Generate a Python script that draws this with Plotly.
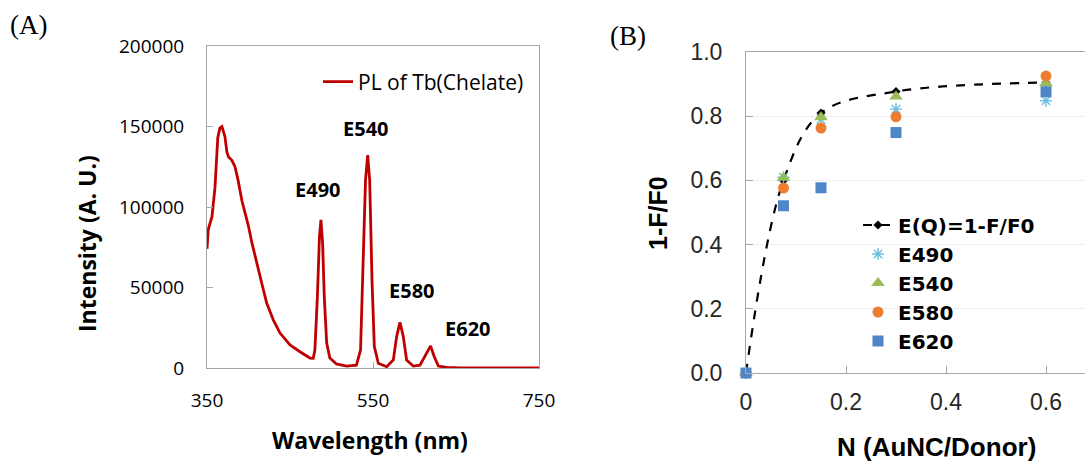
import plotly.graph_objects as go

# ---------------- Panel A data: PL spectrum of Tb(Chelate) ----------------
wavelength = [350, 351.5, 356, 359.6, 363, 365.5, 368, 371.7, 374, 376, 380, 383.7, 387.3,
              392, 396, 400, 404, 409.8, 415.9, 421.9, 429.9, 438, 450, 462, 474, 478,
              480, 483, 485.5, 487.3, 489.3, 491.3, 494.2, 498, 506, 518, 530, 535, 538,
              541, 543.6, 546, 548.8, 551.6, 556.4, 566.5, 574.5, 578.5, 582.5, 586.5,
              590.5, 598.5, 606.6, 614.6, 619.4, 623.5, 628.7, 638.8, 654.8, 750]
intensity = [74000, 86000, 94000, 112000, 143000, 149000, 150000, 143500, 134000, 131000,
             129000, 125000, 117000, 104000, 96000, 88000, 78000, 65000, 52800, 40400,
             29800, 21700, 14300, 10100, 6200, 6000, 11200, 44300, 81600, 92000, 77500,
             44300, 15500, 6200, 2500, 1200, 1800, 11200, 65000, 116800, 132300, 116800,
             54700, 13300, 2900, 800, 5000, 19500, 28400, 19500, 5000, 1200, 1800, 9100,
             13700, 7500, 1200, 400, 0, 0]
peak_labels = ["E490", "E540", "E580", "E620"]
peak_label_x = [483.5, 541.5, 597, 664]
peak_label_y = [110600, 149000, 48400, 24800]

# ---------------- Panel B data: quenching efficiency ----------------
N = [0, 0.075, 0.15, 0.3, 0.6]
EQ = [0, 0.60, 0.81, 0.877, 0.905]
E490 = [0, 0.61, 0.79, 0.822, 0.848]
E540 = [0, 0.608, 0.797, 0.861, 0.903]
E580 = [0, 0.576, 0.763, 0.798, 0.925]
E620 = [0, 0.521, 0.577, 0.749, 0.876]

W, H = 1085, 461


def px(x):
    return x / W


def py(y):
    return 1 - y / H


fontA = "Open Sans"
fontB = "Liberation Sans, Arial"
fontLeg = "DejaVu Sans"

fig = go.Figure()

fig.add_trace(go.Scatter(
    x=wavelength, y=intensity, mode="lines", name="PL of Tb(Chelate)",
    line=dict(color="#C00000", width=2.8), xaxis="x", yaxis="y",
    legend="legend", cliponaxis=False))

fig.add_trace(go.Scatter(
    x=N, y=EQ, mode="lines+markers", name="E(Q)=1-F/F0",
    line=dict(color="black", width=2.2, dash="dash", shape="spline", smoothing=1.0),
    marker=dict(symbol="diamond", size=7, color="black"),
    xaxis="x2", yaxis="y2", legend="legend2", cliponaxis=False))
fig.add_trace(go.Scatter(
    x=N, y=E490, mode="markers", name="E490",
    marker=dict(symbol="asterisk-open", size=10, color="#6CBFDF",
                line=dict(color="#6CBFDF", width=1.4)),
    xaxis="x2", yaxis="y2", legend="legend2", cliponaxis=False))
fig.add_trace(go.Scatter(
    x=N, y=E540, mode="markers", name="E540",
    marker=dict(symbol="triangle-up", size=12, color="#9BBB59"),
    xaxis="x2", yaxis="y2", legend="legend2", cliponaxis=False))
fig.add_trace(go.Scatter(
    x=N, y=E580, mode="markers", name="E580",
    marker=dict(symbol="circle", size=11, color="#ED7D31"),
    xaxis="x2", yaxis="y2", legend="legend2", cliponaxis=False))
fig.add_trace(go.Scatter(
    x=N, y=E620, mode="markers", name="E620",
    marker=dict(symbol="square", size=11, color="#4F86C6"),
    xaxis="x2", yaxis="y2", legend="legend2", cliponaxis=False))

axA = dict(showline=True, linecolor="#A6A6A6", linewidth=1, mirror=True,
           ticks="inside", ticklen=6, tickcolor="#A6A6A6", showgrid=False,
           zeroline=False, automargin=False,
           tickfont=dict(family=fontA, size=19, color="black"))
axB = dict(showline=True, linecolor="#A6A6A6", linewidth=1,
           ticks="inside", ticklen=7, tickcolor="#A6A6A6", zeroline=False,
           automargin=False,
           tickfont=dict(family=fontB, size=23, color="#262626"))

annotations = []
for lab, lx, ly in zip(peak_labels, peak_label_x, peak_label_y):
    annotations.append(dict(x=lx, y=ly, xref="x", yref="y", text="<b>%s</b>" % lab,
                            xanchor="center", yanchor="middle",
                            showarrow=False, font=dict(family=fontA, size=20, color="black")))


def paper_text(x, y, text, font, angle=0):
    return dict(x=px(x), y=py(y), xref="paper", yref="paper", text=text,
                xanchor="center", yanchor="middle", showarrow=False,
                textangle=angle, font=font)


annotations += [
    paper_text(370, 440, "<b>Wavelength (nm)</b>", dict(family=fontA, size=23, color="black")),
    paper_text(87, 244, "<b>Intensity (A. U.)</b>", dict(family=fontA, size=23, color="black"), -90),
    paper_text(936, 447, "<b>N (AuNC/Donor)</b>", dict(family=fontB, size=26, color="black")),
    paper_text(658, 213, "<b>1-F/F0</b>", dict(family=fontB, size=25, color="black"), -90),
    paper_text(28, 25, "(A)", dict(family="Liberation Serif, Times New Roman", size=27, color="black")),
    paper_text(628, 36, "(B)", dict(family="Liberation Serif, Times New Roman", size=27, color="black")),
]

fig.update_layout(
    width=W, height=H,
    margin=dict(l=0, r=0, t=0, b=0, pad=0, autoexpand=False),
    paper_bgcolor="white", plot_bgcolor="white",
    xaxis=dict(axA, domain=[px(207), px(539)], range=[350, 750],
               tickvals=[350, 550, 750], anchor="y", ticklabelstandoff=15),
    yaxis=dict(axA, domain=[py(368), py(46)], range=[0, 200000],
               tickvals=[0, 50000, 100000, 150000, 200000], tickformat="d",
               anchor="x", ticklabelstandoff=18),
    xaxis2=dict(axB, domain=[px(746), 1.0], range=[0, 0.678], mirror=True,
                tickvals=[0, 0.2, 0.4, 0.6], ticktext=["0", "0.2", "0.4", "0.6"],
                showgrid=False, anchor="y2", ticklabelstandoff=8),
    yaxis2=dict(axB, domain=[py(373), py(52)], range=[0, 1], tickvals=[0, 0.2, 0.4, 0.6, 0.8, 1.0],
                tickformat=".1f", showgrid=True, gridcolor="#EFEFEF", gridwidth=1,
                anchor="x2", ticklabelstandoff=18),
    legend=dict(x=px(318), y=py(82), xanchor="left", yanchor="middle",
                bgcolor="rgba(0,0,0,0)", font=dict(family=fontA, size=21, color="black"),
                itemwidth=30),
    legend2=dict(x=px(858), y=py(283), xanchor="left", yanchor="middle",
                 bgcolor="rgba(0,0,0,0)", font=dict(family=fontLeg, size=20, color="black"),
                 itemwidth=30),
    annotations=annotations,
    showlegend=True,
)

# bold legend text for panel B
for tr in fig.data[1:]:
    tr.name = "<b>%s</b>" % tr.name

fig.write_html("out.html")
